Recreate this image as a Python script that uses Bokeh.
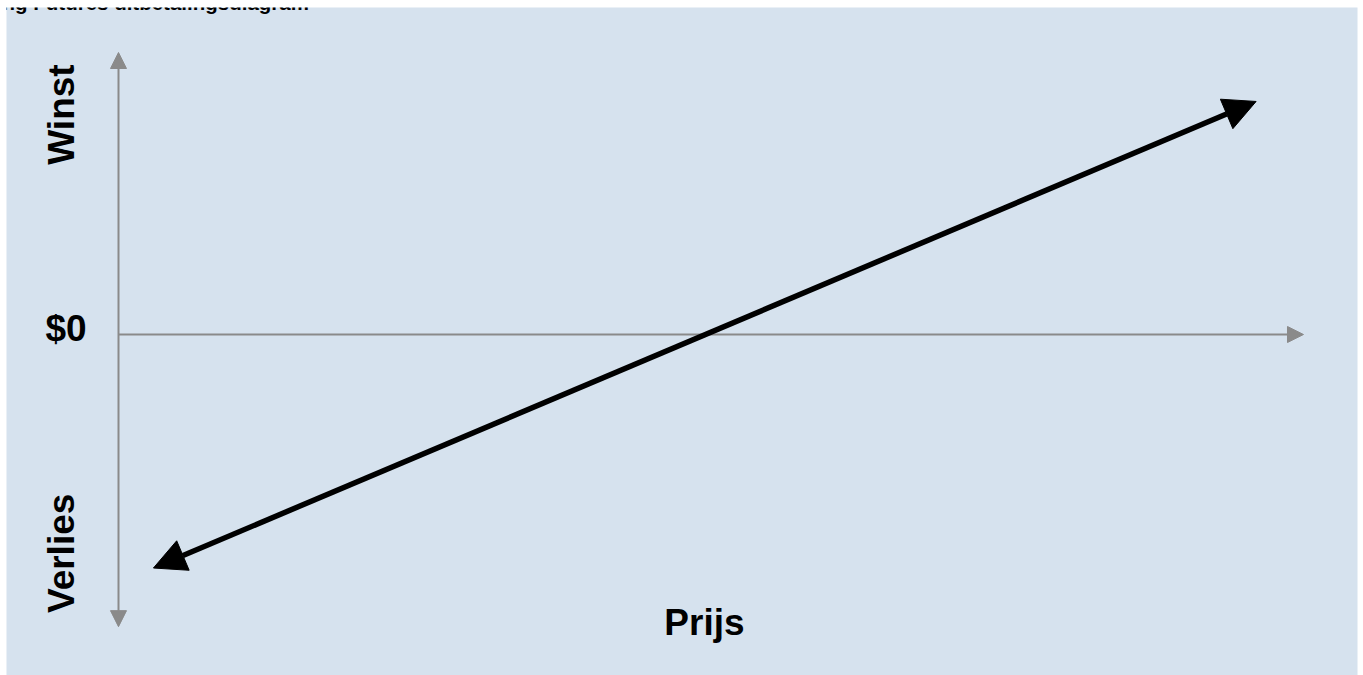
from bokeh.plotting import figure
from bokeh.models import Range1d, Arrow, NormalHead, Label
from bokeh.embed import file_html
from bokeh.resources import INLINE

# ---- data (abstract units) ----
title_text = "Long Futures uitbetalingsdiagram"
payoff_price = [2.95, 96.0]      # price at the two ends of the payoff line
payoff_pnl = [-20.7, 20.66]      # profit / loss at those prices
axis_price = [0.0, 100.0]        # horizontal (price) axis extent
axis_pnl = [-25.9, 25.0]         # vertical (P&L) axis extent
y_labels = ["Winst", "$0", "Verlies"]
x_label = "Prijs"

FONT = "Liberation Sans"
BG = "#d6e2ee"
GREY = "#8a8a8a"

p = figure(width=1363, height=675, output_backend="svg", toolbar_location=None,
           x_range=Range1d(-9.451, 104.557), y_range=Range1d(-30.23, 28.99),
           x_axis_location=None, y_axis_location=None,
           min_border_top=7, min_border_left=6, min_border_right=6, min_border_bottom=0)
p.background_fill_color = BG
p.border_fill_color = "white"
p.outline_line_color = None
p.grid.visible = False

# vertical P&L axis (arrows both ends)
p.add_layout(Arrow(x_start=axis_price[0], y_start=axis_pnl[0], x_end=axis_price[0], y_end=axis_pnl[1],
                   line_color=GREY, line_width=2,
                   start=NormalHead(size=16, fill_color=GREY, line_color=GREY),
                   end=NormalHead(size=16, fill_color=GREY, line_color=GREY)))
# horizontal price axis at $0
p.add_layout(Arrow(x_start=axis_price[0], y_start=0, x_end=axis_price[1], y_end=0,
                   line_color=GREY, line_width=2,
                   end=NormalHead(size=16, fill_color=GREY, line_color=GREY)))
# payoff line
p.add_layout(Arrow(x_start=payoff_price[0], y_start=payoff_pnl[0],
                   x_end=payoff_price[1], y_end=payoff_pnl[1],
                   line_color="black", line_width=5.5,
                   start=NormalHead(size=32, fill_color="black", line_color="black"),
                   end=NormalHead(size=32, fill_color="black", line_color="black")))

common = dict(text_font=FONT, text_font_style="bold", text_font_size="37px",
              text_color="black", text_align="center", text_baseline="alphabetic")
p.add_layout(Label(x=-4.81, y=19.5, text=y_labels[0], angle=1.5708, **common))
p.add_layout(Label(x=-4.43, y=0.53, text=y_labels[1], **common))
p.add_layout(Label(x=-4.81, y=-19.4, text=y_labels[2], angle=1.5708, **common))
p.add_layout(Label(x=49.45, y=-25.54, text=x_label, **common))

# title (its left and top run off the page as in the reference)
p.add_layout(Label(x=-11.9, y=29.4, text=title_text, text_font=FONT, text_font_style="bold",
                   text_font_size="20.5px", text_color="black", text_align="left",
                   text_baseline="alphabetic"))

open("out.html", "w").write(file_html(p, INLINE))
